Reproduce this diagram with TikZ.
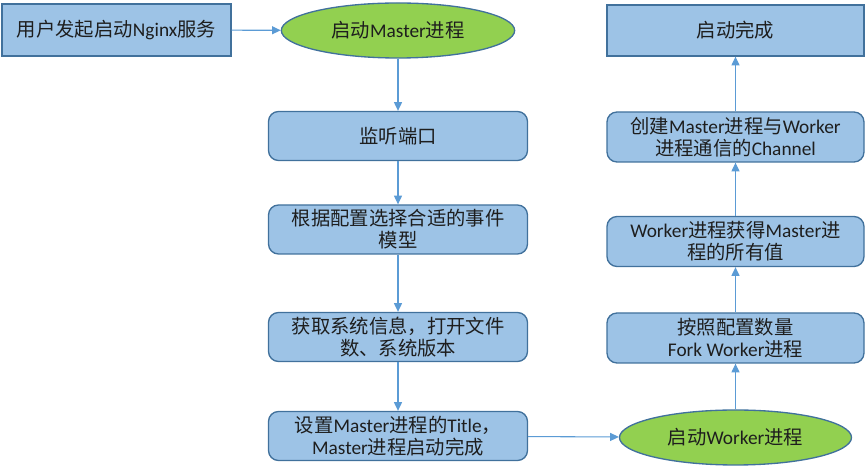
\documentclass[tikz,border=0pt]{standalone}
\usepackage{fontspec}
\setmainfont{Carlito}
\newfontfamily\cjk{Noto Sans CJK SC}
\usetikzlibrary{arrows.meta,shapes.geometric}
\newcommand\C[1]{{\cjk #1}}
\definecolor{boxfill}{RGB}{157,195,230}
\definecolor{boxline}{RGB}{65,113,156}
\definecolor{ellfill}{RGB}{146,208,80}
\definecolor{arrcol}{RGB}{91,155,213}
\definecolor{txt}{RGB}{30,30,30}
\begin{document}
\begin{tikzpicture}[x=0.75pt,y=-0.75pt,
 box/.style={draw=boxline, fill=boxfill, line width=1pt, align=center, inner sep=0pt, font=\fontsize{14.5}{16.5}\selectfont, text=txt},
 rbox/.style={box, rounded corners=7.5pt},
 lbox/.style={rbox, minimum width=194.25pt, minimum height=36.75pt},
 rtbox/.style={rbox, minimum width=192.75pt, minimum height=37.5pt},
 ell/.style={box, ellipse, fill=ellfill, minimum width=175pt, minimum height=41.25pt},
 arr/.style={draw=arrcol, line width=0.8pt, -{Triangle[width=6pt,length=6.5pt]}}]
\useasboundingbox (0,0) rectangle (865,473);
\node[box, minimum width=171.75pt, minimum height=39pt] (u) at (116.5,30) {\C{用户发起启动}Nginx\C{服务}};
\node[ell] (m) at (398,30.5) {\C{启动}Master\C{进程}};
\node[lbox] (l1) at (398,136) {\C{监听端口}};
\node[lbox] (l2) at (398,229.5) {\C{根据配置选择合适的事件}\\\C{模型}};
\node[lbox] (l3) at (398,337) {\C{获取系统信息，打开文件}\\\C{数、系统版本}};
\node[lbox] (l4) at (398,436) {\C{设置}Master\C{进程的}Title\C{，}\\Master\C{进程启动完成}};
\node[ell, minimum width=174pt] (w) at (735.5,437.5) {\C{启动}Worker\C{进程}};
\node[rtbox] (r1) at (735.5,338) {\C{按照配置数量}\\Fork Worker\C{进程}};
\node[rtbox] (r2) at (735.5,241.5) {Worker\C{进程获得}Master\C{进}\\\C{程的所有值}};
\node[rtbox] (r3) at (735.5,137) {\C{创建}Master\C{进程与}Worker\\\C{进程通信的}Channel};
\node[box, minimum width=192.75pt, minimum height=38.25pt] (r4) at (735.5,30.5) {\C{启动完成}};
\draw[arr] (u) -- (m);
\draw[arr] (m) -- (l1);
\draw[arr] (l1) -- (l2);
\draw[arr] (l2) -- (l3);
\draw[arr] (l3) -- (l4);
\draw[arr] (l4) -- (w);
\draw[arr] (w) -- (r1);
\draw[arr] (r1) -- (r2);
\draw[arr] (r2) -- (r3);
\draw[arr] (r3) -- (r4);
\end{tikzpicture}
\end{document}
